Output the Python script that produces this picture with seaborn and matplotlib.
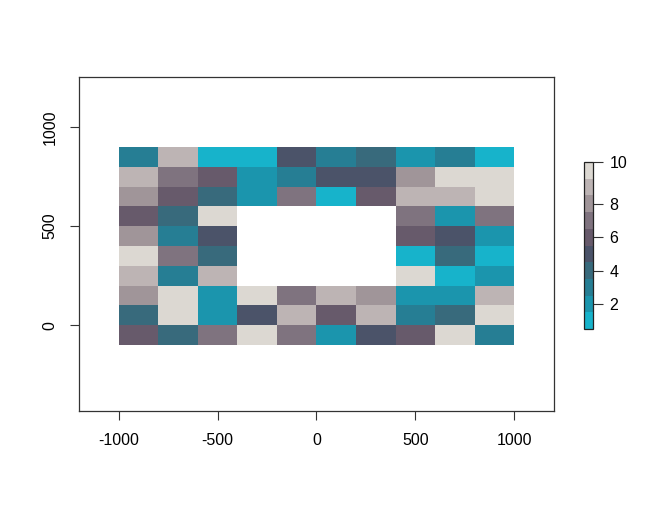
import numpy as np
import matplotlib
matplotlib.use("Agg")
import matplotlib.pyplot as plt
from matplotlib.colors import ListedColormap
import seaborn as sns

# grid: 10 columns (-1000..1000) x 10 rows (-100..900), hole in the middle
x_edges = [-1000, -800, -600, -400, -200, 0, 200, 400, 600, 800, 1000]
y_edges = [-100, 0, 100, 200, 300, 400, 500, 600, 700, 800, 900]

# values per row, top row (800..900) first; None = empty cell
rows = [
    [3, 9, 1, 1, 5, 3, 4, 2, 3, 1],
    [9, 7, 6, 2, 3, 5, 5, 8, 10, 10],
    [8, 6, 4, 2, 7, 1, 6, 9, 9, 10],
    [6, 4, 10, None, None, None, None, 7, 2, 7],
    [8, 3, 5, None, None, None, None, 6, 5, 2],
    [10, 7, 4, None, None, None, None, 1, 4, 1],
    [9, 3, 9, None, None, None, None, 10, 1, 2],
    [8, 10, 2, 10, 7, 9, 8, 2, 2, 9],
    [4, 10, 2, 5, 9, 6, 9, 3, 4, 10],
    [6, 4, 7, 10, 7, 2, 5, 6, 10, 3],
]

colors = ["#17b3cb", "#1b95ad", "#267e94", "#386a7c", "#4b5369",
          "#675a6b", "#7f737f", "#a09599", "#bdb4b4", "#dcd8d2"]
cbar_ticks = [2, 4, 6, 8, 10]

xs, ys, ws = [], [], []
for i, row in enumerate(rows):
    yc = (y_edges[-1 - i] + y_edges[-2 - i]) / 2
    for j, v in enumerate(row):
        if v is None:
            continue
        xs.append((x_edges[j] + x_edges[j + 1]) / 2)
        ys.append(yc)
        ws.append(v)

sns.set_style("white")
plt.rcParams["font.family"] = ["Liberation Sans", "DejaVu Sans"]
plt.rcParams["axes.unicode_minus"] = False

cmap = ListedColormap(colors)
fig = plt.figure(figsize=(6.66, 5.11), dpi=100)
ax = fig.add_axes([0.1186, 0.1957, 0.7132, 0.6536])

sns.histplot(x=xs, y=ys, weights=ws, binwidth=(200, 100),
             binrange=((-1000, 1000), (-100, 900)), cmap=cmap,
             vmin=0.5, vmax=10.5, ax=ax)

ax.set_xlim(-1200, 1200)
ax.set_ylim(-433, 1253)
ax.set_xticks([-1000, -500, 0, 500, 1000])
ax.set_yticks([0, 500, 1000])
ax.set_xlabel("")
ax.set_ylabel("")
for s in ax.spines.values():
    s.set_visible(True)
    s.set_color("#333333")
    s.set_linewidth(0.9)
ax.tick_params(direction="out", length=6.5, width=0.8, color="#333333",
               labelsize=11.5, labelcolor="black", pad=9,
               bottom=True, left=True)
for lab in ax.get_yticklabels():
    lab.set_rotation(90)
    lab.set_va("center")

mappable = ax.collections[0]
cax = fig.add_axes([0.8769, 0.356, 0.0135, 0.327])
bounds = [1] + [k + 0.5 for k in range(1, 10)] + [10]
cb = fig.colorbar(mappable, cax=cax, boundaries=bounds,
                  values=list(range(1, 11)), ticks=cbar_ticks)
cb.outline.set_linewidth(0.9)
cb.outline.set_edgecolor("#222222")
cax.tick_params(direction="out", length=7, width=0.8, color="#333333",
                labelsize=11.5, labelcolor="black", pad=5)

plt.savefig("out.png", dpi=100)
plt.close()
